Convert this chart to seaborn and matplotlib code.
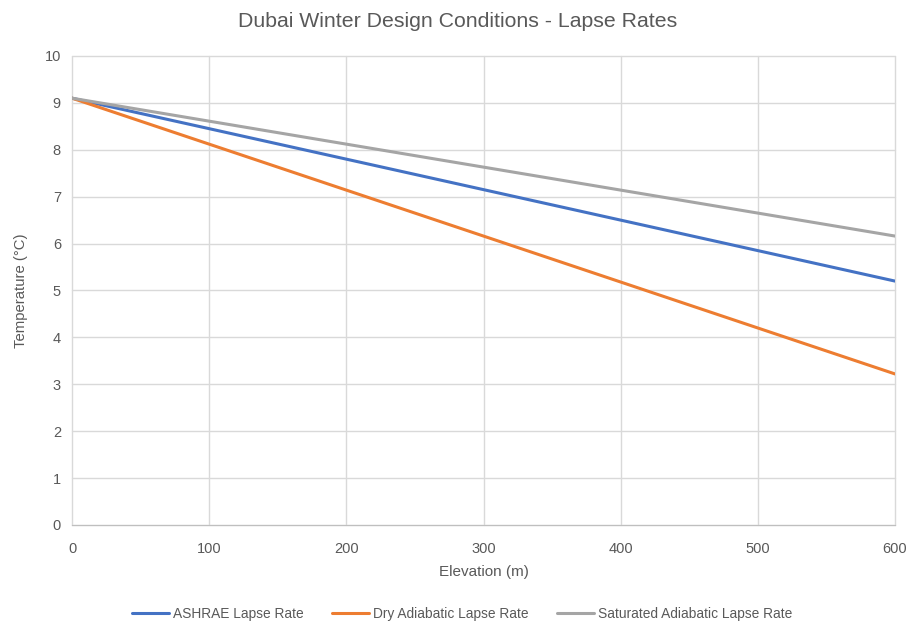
import pandas as pd
import matplotlib.pyplot as plt
import seaborn as sns

# values (every 100 m)
elevation = [0, 100, 200, 300, 400, 500, 600]
ashrae = [9.1, 8.45, 7.8, 7.15, 6.5, 5.85, 5.2]
dry = [9.1, 8.12, 7.14, 6.16, 5.18, 4.2, 3.22]
saturated = [9.1, 8.61, 8.12, 7.63, 7.14, 6.65, 6.16]
series_names = ['ASHRAE Lapse Rate', 'Dry Adiabatic Lapse Rate', 'Saturated Adiabatic Lapse Rate']
colors = ['#4472C4', '#ED7D31', '#A5A5A5']

df = pd.concat([
    pd.DataFrame({'Elevation': elevation, 'Temp': vals, 'Series': name})
    for name, vals in zip(series_names, [ashrae, dry, saturated])
])

sns.set_style('white')
plt.rcParams['font.family'] = ['Liberation Sans', 'DejaVu Sans']
text_col = '#595959'

fig = plt.figure(figsize=(9.08, 6.24), dpi=100)
ax = fig.add_axes([0.0793, 0.1587, 0.9064, 0.7516])

sns.lineplot(data=df, x='Elevation', y='Temp', hue='Series', palette=colors,
             linewidth=2.2, ax=ax, legend=True)

ax.set_xlim(0, 600)
ax.set_ylim(0, 10)
ax.set_xticks(range(0, 601, 100))
ax.set_yticks(range(0, 11))
ax.grid(True, color='#d9d9d9', linewidth=1, clip_on=False)
ax.set_axisbelow(True)
for s in ['top', 'right', 'left']:
    ax.spines[s].set_visible(False)
ax.spines['bottom'].set_color('#bfbfbf')
ax.tick_params(axis='x', length=0, labelsize=10.5, labelcolor=text_col, pad=12)
ax.tick_params(axis='y', length=0, labelsize=10.5, labelcolor=text_col, pad=8)

ax.set_xlabel('Elevation (m)', fontsize=11, color=text_col, labelpad=7)
ax.set_ylabel('Temperature (°C)', fontsize=10.7, color=text_col, labelpad=12)
fig.text(0.504, 0.966, 'Dubai Winter Design Conditions - Lapse Rates', ha='center', va='center',
         fontsize=15.3, color=text_col)

handles, labels = ax.get_legend_handles_labels()
ax.legend(handles, labels, loc='center', bbox_to_anchor=(0.509, 0.016), bbox_transform=fig.transFigure,
          ncol=3, frameon=False, fontsize=9.9, labelcolor=text_col, columnspacing=2.1,
          handlelength=2.7, handletextpad=0.25)

fig.savefig('out.png', dpi=100)
